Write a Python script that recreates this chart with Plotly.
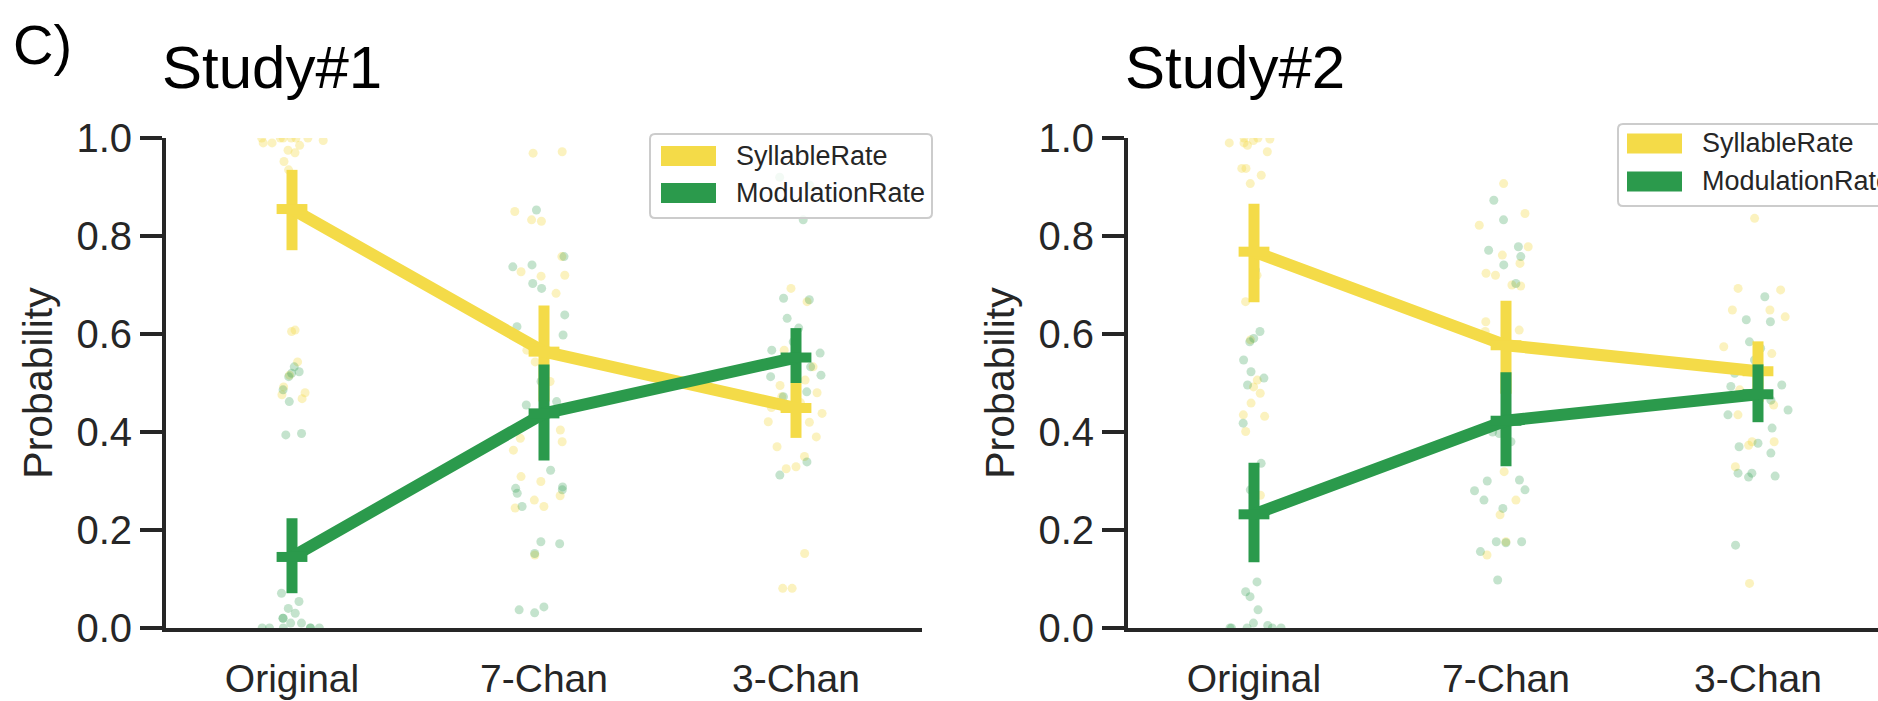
import plotly.graph_objects as go

# ---------------- data ----------------
categories = ["Original", "7-Chan", "3-Chan"]
series_names = ["SyllableRate", "ModulationRate"]
yticks = [0.0, 0.2, 0.4, 0.6, 0.8, 1.0]

# Study#1 means and confidence intervals
s1_syll_mean = [0.855, 0.564, 0.449]
s1_syll_lo = [0.771, 0.462, 0.388]
s1_syll_hi = [0.935, 0.658, 0.500]
s1_mod_mean = [0.145, 0.438, 0.552]
s1_mod_lo = [0.071, 0.342, 0.500]
s1_mod_hi = [0.224, 0.538, 0.612]

# Study#2 means and confidence intervals
s2_syll_mean = [0.768, 0.577, 0.524]
s2_syll_lo = [0.665, 0.478, 0.462]
s2_syll_hi = [0.866, 0.668, 0.585]
s2_mod_mean = [0.232, 0.423, 0.477]
s2_mod_lo = [0.134, 0.330, 0.420]
s2_mod_hi = [0.337, 0.522, 0.538]

# individual subjects (strip points)
s1_syll_orig = [1.0, 1.0, 1.0, 1.0, 1.0, 1.0, 0.995, 0.99, 0.99, 0.985, 0.975, 0.97,
                0.952, 0.935, 0.608, 0.605, 0.543, 0.516, 0.492, 0.48, 0.476, 0.468]
s1_syll_7ch = [0.972, 0.969, 0.85, 0.833, 0.83, 0.758, 0.727, 0.72, 0.718, 0.683, 0.567,
               0.543, 0.503, 0.404, 0.387, 0.38, 0.363, 0.309, 0.299, 0.27, 0.261, 0.248,
               0.245, 0.149]
s1_syll_3ch = [0.693, 0.666, 0.567, 0.54, 0.533, 0.506, 0.495, 0.48, 0.472, 0.46, 0.452,
               0.45, 0.438, 0.421, 0.42, 0.39, 0.37, 0.35, 0.329, 0.325, 0.152, 0.081, 0.081]
s1_mod_orig = [0.0, 0.0, 0.0, 0.0, 0.0, 0.0, 0.01, 0.01, 0.02, 0.02, 0.03, 0.04, 0.054,
               0.071, 0.394, 0.397, 0.462, 0.486, 0.513, 0.52, 0.523, 0.533]
s1_mod_7ch = [0.853, 0.758, 0.741, 0.737, 0.703, 0.693, 0.639, 0.615, 0.598, 0.503, 0.462,
              0.455, 0.431, 0.322, 0.288, 0.285, 0.282, 0.275, 0.248, 0.176, 0.172, 0.152,
              0.043, 0.037, 0.031]
s1_mod_3ch = [0.92, 0.904, 0.833, 0.673, 0.67, 0.632, 0.612, 0.584, 0.567, 0.561, 0.537,
              0.533, 0.516, 0.513, 0.482, 0.478, 0.472, 0.339, 0.312]

s2_syll_orig = [1.0, 1.0, 0.998, 0.995, 0.99, 0.99, 0.985, 0.972, 0.938, 0.938, 0.924,
                0.907, 0.72, 0.666, 0.588, 0.506, 0.492, 0.479, 0.459, 0.435, 0.432,
                0.401, 0.271]
s2_syll_7ch = [0.907, 0.846, 0.822, 0.778, 0.761, 0.744, 0.724, 0.72, 0.70, 0.698, 0.625,
               0.608, 0.605, 0.411, 0.319, 0.261, 0.231, 0.176, 0.149]
s2_syll_3ch = [0.836, 0.693, 0.69, 0.649, 0.649, 0.635, 0.574, 0.56, 0.53, 0.486, 0.455,
               0.435, 0.38, 0.38, 0.373, 0.329, 0.091]
s2_mod_orig = [0.731, 0.605, 0.591, 0.584, 0.547, 0.523, 0.51, 0.496, 0.418, 0.336, 0.282,
               0.094, 0.074, 0.064, 0.037, 0.01, 0.005, 0.0, 0.0, 0.0, 0.0, 0.0]
s2_mod_7ch = [0.873, 0.833, 0.778, 0.771, 0.758, 0.741, 0.703, 0.40, 0.397, 0.38, 0.302,
              0.30, 0.282, 0.28, 0.261, 0.244, 0.176, 0.176, 0.174, 0.156, 0.098]
s2_mod_3ch = [0.909, 0.676, 0.629, 0.625, 0.584, 0.571, 0.547, 0.52, 0.496, 0.493, 0.465,
              0.445, 0.435, 0.408, 0.377, 0.37, 0.357, 0.316, 0.316, 0.31, 0.308, 0.169]

# ---------------- styling ----------------
W, H = 1878, 701
YEL = "#F4DB48"
GRN = "#2B9A4C"
YEL_DOT = "rgba(244,219,72,0.35)"
GRN_DOT = "rgba(43,154,76,0.28)"
TXT = "#262626"
FONT = "Liberation Sans, Arial, sans-serif"

def px_x(x):
    return x / W

def px_y(y):
    return 1 - y / H

fig = go.Figure()

panels = [
    dict(xa="x", ya="y",
         syll=(s1_syll_mean, s1_syll_lo, s1_syll_hi),
         mod=(s1_mod_mean, s1_mod_lo, s1_mod_hi),
         syll_pts=[s1_syll_orig, s1_syll_7ch, s1_syll_3ch],
         mod_pts=[s1_mod_orig, s1_mod_7ch, s1_mod_3ch]),
    dict(xa="x2", ya="y2",
         syll=(s2_syll_mean, s2_syll_lo, s2_syll_hi),
         mod=(s2_mod_mean, s2_mod_lo, s2_mod_hi),
         syll_pts=[s2_syll_orig, s2_syll_7ch, s2_syll_3ch],
         mod_pts=[s2_mod_orig, s2_mod_7ch, s2_mod_3ch]),
]

for p in panels:
    # strip points (jitter done by plotly)
    for pts, col in ((p["syll_pts"], YEL_DOT), (p["mod_pts"], GRN_DOT)):
        xs, ys = [], []
        for cat, vals in zip(categories, pts):
            xs += [cat] * len(vals)
            ys += vals
        fig.add_trace(go.Box(
            x=xs, y=ys, xaxis=p["xa"], yaxis=p["ya"],
            boxpoints="all", jitter=1.0, pointpos=0, width=0.28,
            fillcolor="rgba(0,0,0,0)", line=dict(width=0, color="rgba(0,0,0,0)"),
            marker=dict(size=9, color=col, line=dict(width=0)),
            showlegend=False, hoverinfo="y"))
    # point estimates with CIs
    for (mean, lo, hi), col, name in ((p["syll"], YEL, series_names[0]),
                                       (p["mod"], GRN, series_names[1])):
        fig.add_trace(go.Scatter(
            x=categories, y=mean, xaxis=p["xa"], yaxis=p["ya"], name=name,
            mode="lines+markers",
            line=dict(color=col, width=12),
            marker=dict(symbol="line-ew", size=22, color=col,
                        line=dict(color=col, width=10)),
            error_y=dict(type="data", symmetric=False,
                         array=[h - m for h, m in zip(hi, mean)],
                         arrayminus=[m - l for m, l in zip(mean, lo)],
                         color=col, thickness=11, width=0),
            cliponaxis=False, showlegend=False))

ydom = [px_y(628), px_y(138)]
axis_common = dict(showline=True, linecolor=TXT, linewidth=4, showgrid=False,
                   zeroline=False)
xaxis_style = dict(axis_common, type="category", categoryorder="array",
                   categoryarray=categories, ticks="",
                   tickfont=dict(size=39, color=TXT, family=FONT),
                   ticklabelstandoff=13)
yaxis_style = dict(axis_common, range=[0, 1], tickvals=yticks, tickformat=".1f",
                   ticks="outside", ticklen=22, tickwidth=4, tickcolor=TXT,
                   tickfont=dict(size=40, color=TXT, family=FONT),
                   title=dict(text="Probability", font=dict(size=41, color=TXT, family=FONT),
                              standoff=12))

fig.update_layout(
    width=W, height=H,
    margin=dict(l=0, r=0, t=0, b=0, autoexpand=False),
    paper_bgcolor="white", plot_bgcolor="white",
    font=dict(family=FONT, color=TXT),
    boxmode="overlay",
    xaxis=dict(xaxis_style, domain=[px_x(166), px_x(922)], range=[-0.5, 2.5],
               anchor="y"),
    yaxis=dict(yaxis_style, domain=ydom, anchor="x"),
    xaxis2=dict(xaxis_style, domain=[px_x(1128), 1.0],
                range=[-0.5, -0.5 + (W - 1128) / 252.0], anchor="y2"),
    yaxis2=dict(yaxis_style, domain=ydom, anchor="x2"),
)

annotations = [
    dict(text="C)", x=px_x(11), y=px_y(45), xanchor="left", yanchor="middle",
         font=dict(size=56, color="black", family=FONT)),
    dict(text="Study#1", x=px_x(160), y=px_y(67), xanchor="left", yanchor="middle",
         font=dict(size=60, color="black", family=FONT)),
    dict(text="Study#2", x=px_x(1123), y=px_y(67), xanchor="left", yanchor="middle",
         font=dict(size=60, color="black", family=FONT)),
]

shapes = []

def rounded_rect(x0, y0, x1, y1, r):
    pts = [
        f"M{px_x(x0 + r)},{px_y(y0)}",
        f"L{px_x(x1 - r)},{px_y(y0)}",
        f"Q{px_x(x1)},{px_y(y0)} {px_x(x1)},{px_y(y0 + r)}",
        f"L{px_x(x1)},{px_y(y1 - r)}",
        f"Q{px_x(x1)},{px_y(y1)} {px_x(x1 - r)},{px_y(y1)}",
        f"L{px_x(x0 + r)},{px_y(y1)}",
        f"Q{px_x(x0)},{px_y(y1)} {px_x(x0)},{px_y(y1 - r)}",
        f"L{px_x(x0)},{px_y(y0 + r)}",
        f"Q{px_x(x0)},{px_y(y0)} {px_x(x0 + r)},{px_y(y0)}",
        "Z",
    ]
    return " ".join(pts)

legend_boxes = [
    dict(box=(650, 134, 932, 218), patch_x=(661, 716), rows=(156, 193)),
    dict(box=(1618, 124, 1900, 206), patch_x=(1627, 1682), rows=(143.5, 181.5)),
]
for lb in legend_boxes:
    x0, y0, x1, y1 = lb["box"]
    shapes.append(dict(type="path", xref="paper", yref="paper",
                       path=rounded_rect(x0, y0, x1, y1, 5),
                       line=dict(color="#cccccc", width=2),
                       fillcolor="rgba(255,255,255,0.8)", layer="above"))
    for row_y, col, name in zip(lb["rows"], (YEL, GRN), series_names):
        shapes.append(dict(type="rect", xref="paper", yref="paper",
                           x0=px_x(lb["patch_x"][0]), x1=px_x(lb["patch_x"][1]),
                           y0=px_y(row_y - 10), y1=px_y(row_y + 10),
                           fillcolor=col, line=dict(width=0), layer="above"))
        annotations.append(dict(text=name, x=px_x(lb["patch_x"][1] + 18), y=px_y(row_y),
                                xanchor="left", yanchor="middle",
                                font=dict(size=27, color=TXT, family=FONT)))

for a in annotations:
    a.update(xref="paper", yref="paper", showarrow=False)

fig.update_layout(annotations=annotations, shapes=shapes)

fig.write_html(
    "out.html",
    config={"displayModeBar": False},
    post_script="document.body.style.margin='0px';document.body.style.overflow='hidden';",
)
